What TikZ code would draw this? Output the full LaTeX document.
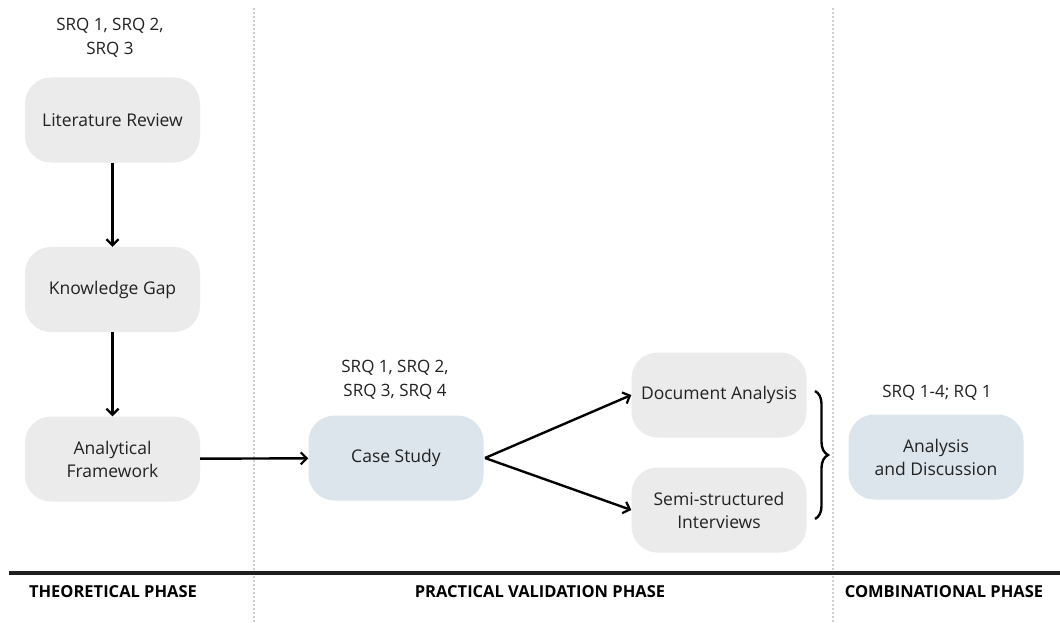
\documentclass[tikz,border=0pt]{standalone}
\usepackage{fontspec}
\setmainfont{Open Sans}
\usetikzlibrary{arrows.meta,decorations.pathreplacing}
\definecolor{greybox}{HTML}{EBEBEB}
\definecolor{bluebox}{HTML}{DCE4EC}
\definecolor{dotgrey}{HTML}{CFCFCF}
\definecolor{txt}{HTML}{222222}
\tikzset{
  box/.style={rounded corners=26pt, minimum width=175pt, minimum height=85pt, align=center, font=\fontsize{17.5}{23}\selectfont, text=txt, inner sep=0pt},
  greyb/.style={box, fill=greybox},
  blueb/.style={box, fill=bluebox},
  lbl/.style={align=center, font=\fontsize{17}{23.5}\selectfont, text=txt},
  phase/.style={font=\bfseries\fontsize{16.5}{18}\selectfont, text=black},
  conn/.style={line width=2.4pt, -{Straight Barb[length=6pt,width=12pt,line width=2.2pt]}},
  sep/.style={dotgrey, line width=2.2pt, dash pattern=on 2pt off 2pt},
}
\begin{document}
\begin{tikzpicture}[x=1pt,y=-1pt]
\useasboundingbox[fill=white] (0,0) rectangle (1060,623);
% separators
\draw[sep] (254,8) -- (254,623);
\draw[sep] (833,8) -- (833,623);
\coordinate (hl) at (9,573);
\coordinate (hr) at (1060,573);
\draw[line width=3.2pt, black!88] (hl) -- (hr);
% nodes
\node[greyb] (lit) at (112.5,120) {Literature Review};
\node[greyb] (kg) at (112.5,289.5) {Knowledge Gap};
\node[greyb] (af) at (112.5,459) {Analytical\\Framework};
\node[blueb] (cs) at (396,458) {Case Study};
\node[greyb] (da) at (719,395) {Document Analysis};
\node[greyb] (ssi) at (719,510) {Semi-structured\\Interviews};
\node[blueb] (ad) at (936,457) {Analysis\\and Discussion};
% labels
\node[lbl] (l1) at (110,38) {SRQ 1, SRQ 2,\\SRQ 3};
\node[lbl] (l2) at (395,380) {SRQ 1, SRQ 2,\\SRQ 3, SRQ 4};
\node[lbl] (l3) at (937,393) {SRQ 1-4; RQ 1};
\node[phase] (p1) at (113,592) {THEORETICAL PHASE};
\node[phase] (p2) at (540,592) {PRACTICAL VALIDATION PHASE};
\node[phase] (p3) at (944,592) {COMBINATIONAL PHASE};
% connectors
\draw[conn] (lit) -- (kg);
\draw[conn] (kg) -- (af);
\draw[conn] (af) -- (cs);
\coordinate (csr) at (485,458);
\draw[conn] (csr) -- (da.west);
\draw[conn] (csr) -- (ssi.west);
% brace
\coordinate (bt) at (815,391);
\coordinate (bb) at (815,519);
\draw[line width=2.4pt, decorate, decoration={brace, amplitude=13pt}] (bt) -- (bb);
\end{tikzpicture}
\end{document}
